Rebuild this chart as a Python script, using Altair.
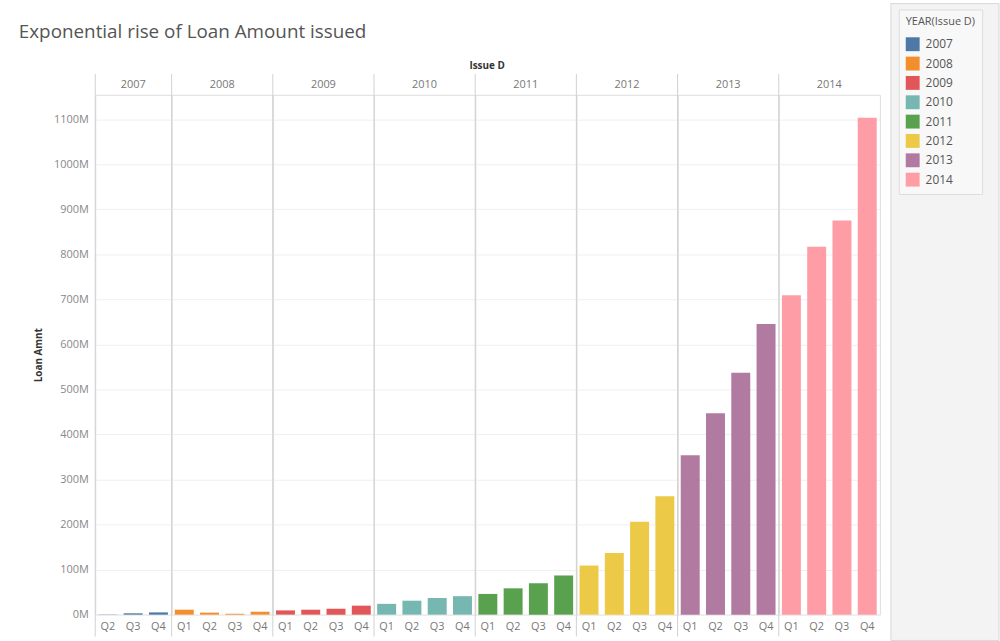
import altair as alt
import pandas as pd

years = ["2007"] * 3 + [y for y in ["2008", "2009", "2010", "2011", "2012", "2013", "2014"] for _ in range(4)]
quarters = ["Q2", "Q3", "Q4"] + ["Q1", "Q2", "Q3", "Q4"] * 7
loan_amnt_m = [
    0.5, 3, 5,
    11, 4.5, 2, 6.5,
    9.5, 11, 13, 20,
    24, 31, 37, 41,
    46, 58.5, 69.5, 87,
    109, 137, 206, 263,
    354, 447, 537, 645,
    709, 817, 875, 1103,
]
year_domain = ["2007", "2008", "2009", "2010", "2011", "2012", "2013", "2014"]
year_colors = ["#4e79a7", "#f28e2b", "#e15759", "#76b7b2", "#59a14f", "#edc948", "#b07aa1", "#ff9da7"]
y_ticks = [0, 100, 200, 300, 400, 500, 600, 700, 800, 900, 1000, 1100]

df = pd.DataFrame({"Year": years, "Quarter": quarters, "Loan Amnt": loan_amnt_m})

FONT = "Open Sans"
PLOT_H = 524

bars = alt.Chart().mark_bar().encode(
    x=alt.X(
        "Quarter:N",
        title=None,
        sort=["Q1", "Q2", "Q3", "Q4"],
        scale=alt.Scale(paddingInner=0.25, paddingOuter=0.125),
        axis=alt.Axis(labelAngle=0, ticks=False, domain=False, labelColor="#777",
                      labelFontSize=11, labelPadding=6, labelFont=FONT),
    ),
    y=alt.Y(
        "Loan Amnt:Q",
        title="Loan Amnt",
        scale=alt.Scale(domain=[0, 1154], nice=False, zero=True),
        axis=alt.Axis(values=y_ticks, labelExpr="datum.value + 'M'", ticks=False, domain=False,
                      labelColor="#888", labelFontSize=11, labelPadding=7, labelFont=FONT,
                      titleFontSize=10, titleFontWeight="bold", titleColor="#333", titleFont=FONT,
                      titlePadding=10, gridColor="#efefef", gridWidth=1),
    ),
    color=alt.Color(
        "Year:N",
        scale=alt.Scale(domain=year_domain, range=year_colors),
        legend=alt.Legend(
            title="YEAR(Issue D)", orient="none", legendX=810, legendY=-86,
            symbolType="square", symbolSize=196, symbolStrokeWidth=0, symbolOpacity=1,
            labelFontSize=12, labelColor="#555", labelFont=FONT,
            titleFontSize=11, titleFontWeight="normal", titleColor="#555", titleFont=FONT,
            titlePadding=10, rowPadding=5.5, padding=7,
            fillColor="#f8f8f8", strokeColor="#dddddd", labelOffset=6,
        ),
    ),
)

# header / footer separators between year panes (Tableau-style pane dividers)
dividers = alt.Chart().mark_rule(color="#d0d0d0", strokeWidth=1).encode(
    x=alt.value(0), y=alt.value(-21), y2=alt.value(PLOT_H + 22)
).transform_filter("datum.Quarter == 'Q4'")

cell = alt.layer(bars, dividers, data=df).properties(width=alt.Step(25.48), height=PLOT_H)

facet = cell.facet(
    column=alt.Column(
        "Year:N",
        sort=year_domain,
        header=alt.Header(
            title="Issue D", titleFontSize=10, titleFontWeight="bold", titleColor="#333",
            titleFont=FONT, titlePadding=-2, labelFontSize=11, labelColor="#777",
            labelFont=FONT, labelPadding=5,
        ),
    ),
    spacing=0,
    bounds="flush",
    title=alt.Title(["", "Exponential rise of Loan Amount issued"], anchor="start", fontSize=19,
                    font=FONT, fontWeight="normal", color="#555", dx=-15, offset=19,
                    lineHeight=13),
).resolve_scale(x="independent")

# grey side panel behind the legend
panel = alt.Chart(pd.DataFrame({"v": [0]})).mark_rect(
    color="#f3f3f3", stroke="#d8d8d8", strokeWidth=1
).encode(
    x=alt.value(0), x2=alt.value(109), y=alt.value(-92), y2=alt.value(550)
).properties(width=109, height=PLOT_H, view=alt.ViewBackground(stroke=None))

chart = alt.hconcat(facet, panel, spacing=9).properties(
    padding={"left": 18, "top": 0, "right": 0, "bottom": 0}
).configure_view(stroke="#d0d0d0", strokeWidth=1).configure_facet(spacing=0).configure(background="white")

chart.save("out.html", embed_options={"renderer": "svg", "actions": False})
